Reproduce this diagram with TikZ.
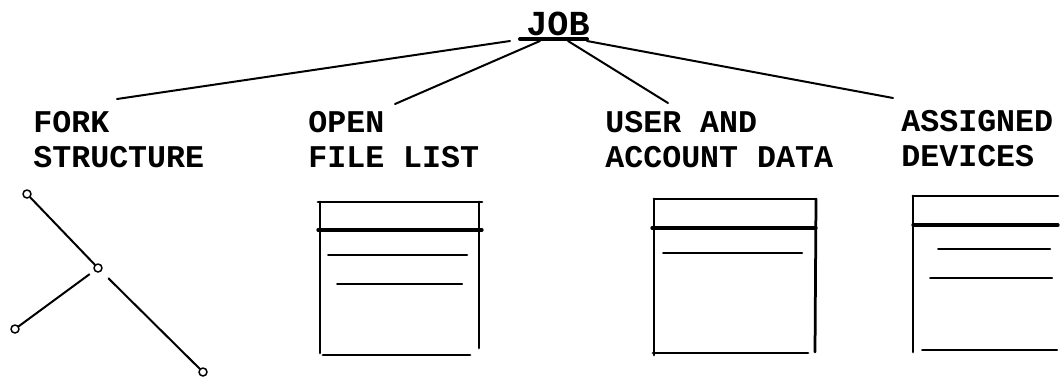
\documentclass[tikz,border=0pt]{standalone}
\usepackage{fontspec}
\newfontfamily\typefont{Liberation Mono}

\begin{document}
\begin{tikzpicture}[x=0.02cm, y=-0.02cm, line cap=round, line join=round,
  title/.style={font=\typefont\bfseries\fontsize{18pt}{19.9pt}\selectfont, align=left, inner sep=0pt, anchor=base west},
  forknode/.style={circle, draw, line width=0.03cm, minimum size=0.16cm, inner sep=0pt},
  link/.style={line width=0.04cm},
  rule/.style={line width=0.055cm}]

\useasboundingbox (0,0) rectangle (1060,379);

% job and its four parts
\node[title, font=\typefont\bfseries\fontsize{20pt}{20pt}\selectfont] (job) at (526,35) {JOB};
\draw[line width=0.08cm] (520,39) -- (587,39);
\coordinate (bar a) at (510,41);
\coordinate (bar b) at (540,41);
\coordinate (bar c) at (568,41);
\coordinate (bar d) at (587,41);

% base of a two-line title is its second line
\node[title] (fork) at (33,167) {FORK\\STRUCTURE};
\node[title] (open) at (308,167) {OPEN\\FILE LIST};
\node[title] (user) at (605,167) {USER AND\\ACCOUNT DATA};
\node[title] (assigned) at (901,166) {ASSIGNED\\DEVICES};

\coordinate (fork end) at (117,99);
\coordinate (open end) at (395,104);
\coordinate (user end) at (668,103);
\coordinate (assigned end) at (893,98);

\foreach \s/\e in {bar a/fork end, bar b/open end, bar c/user end, bar d/assigned end}
  \draw[link] (\s) -- (\e);

% fork tree
\node[forknode] (f1) at (27,194) {};
\node[forknode] (f2) at (98,268) {};
\node[forknode] (f3) at (15,329) {};
\node[forknode] (f4) at (203,372) {};
\draw[link] (f1) -- (f2);
\draw[link, shorten <=0.12cm] (f2) -- (f3);
\draw[link, shorten <=0.2cm] (f2) -- (f4);

% open file list
\draw[rule] (318,202) -- (482,202);
\draw[rule, line width=0.065cm] (318,230) -- (482,230);
\draw[rule] (320,202) -- (320,353);
\draw[rule] (479,202) -- (479,348);
\draw[rule] (323,355) -- (470,355);
\draw[link] (328,255) -- (467,255);
\draw[link] (337,284) -- (462,284);

% user and account data
\draw[rule] (654,199) -- (816,199);
\draw[rule, line width=0.065cm] (652,228) -- (816,228);
\draw[rule] (654,199) -- (654,355);
\draw[rule] (816,199) -- (815,352);
\draw[rule] (653,353) -- (808,353);
\draw[link] (663,253) -- (802,253);

% assigned devices
\draw[rule] (913,196) -- (1058,196);
\draw[rule, line width=0.065cm] (913,225) -- (1058,225);
\draw[rule] (913,196) -- (913,352);
\draw[link] (938,249) -- (1050,249);
\draw[link] (930,278) -- (1052,278);
\draw[link] (922,350) -- (1057,350);

\end{tikzpicture}
\end{document}
